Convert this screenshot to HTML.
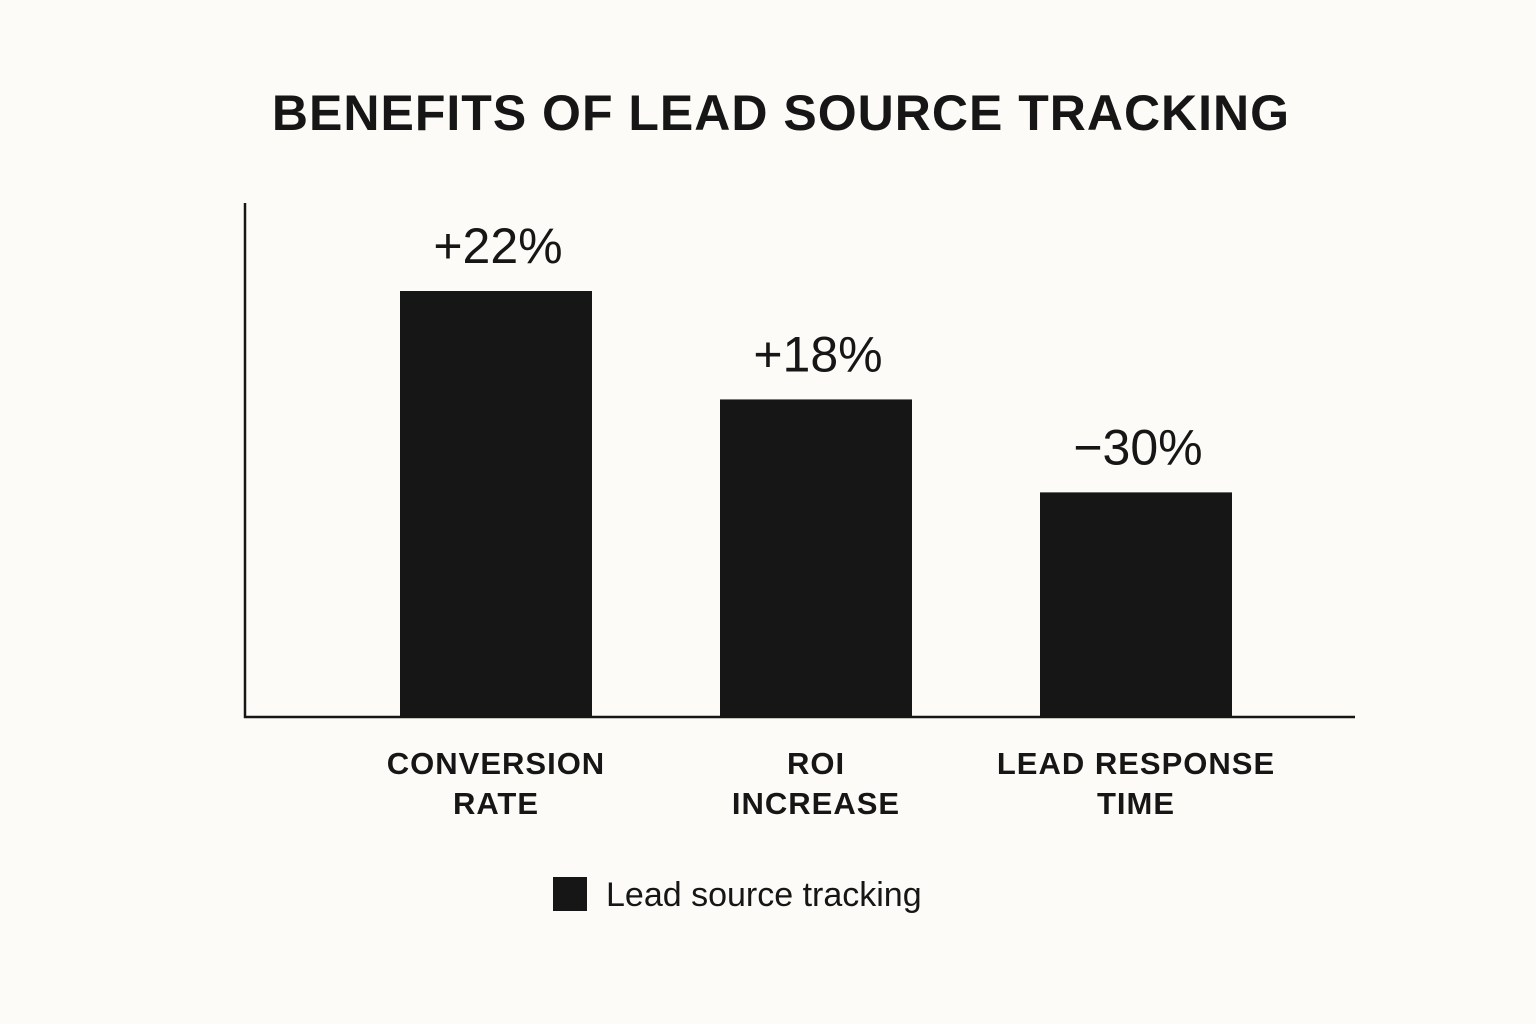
<!DOCTYPE html>
<html><head><meta charset="utf-8"><style>
html,body{margin:0;padding:0;background:#fcfbf7;}
svg{display:block;font-family:"Liberation Sans","DejaVu Sans",sans-serif;}
</style></head><body>
<svg id="chart" width="1536" height="1024" viewBox="0 0 1536 1024">
<rect width="1536" height="1024" fill="#fcfbf7"/>
<text x="781" y="130" text-anchor="middle" font-size="50" font-weight="bold" fill="#161616" letter-spacing="1">BENEFITS OF LEAD SOURCE TRACKING</text>
<line x1="245" y1="203" x2="245" y2="718" stroke="#161616" stroke-width="2.5"/>
<line x1="244" y1="717" x2="1355" y2="717" stroke="#161616" stroke-width="2.5"/>
<g id="bars"></g>
<rect x="553" y="877" width="34" height="34" fill="#161616"/>
<text x="606" y="906" font-size="34" fill="#161616">Lead source tracking</text>
</svg>
<script>
const categories = [["CONVERSION","RATE"],["ROI","INCREASE"],["LEAD RESPONSE","TIME"]];
const values = [22, 16.4, 11.6];
const valueLabels = ["+22%","+18%","\u221230%"];
const ns="http://www.w3.org/2000/svg";
const baseY=717, pxPerUnit=426/22;
function y(v){return baseY - v*pxPerUnit;}
function xCenter(i){return 496 + i*320;}
const barW=192;
const g=document.getElementById('bars');
values.forEach((v,i)=>{
  const r=document.createElementNS(ns,'rect');
  r.setAttribute('x',xCenter(i)-barW/2);
  r.setAttribute('y',y(v));
  r.setAttribute('width',barW);
  r.setAttribute('height',baseY-y(v));
  r.setAttribute('fill','#161616');
  
  
  g.appendChild(r);
  const t=document.createElementNS(ns,'text');
  t.setAttribute('x',xCenter(i)+2);
  t.setAttribute('y',y(v)-28);
  t.setAttribute('text-anchor','middle');
  t.setAttribute('font-size','50');
  t.setAttribute('fill','#161616');
  t.textContent=valueLabels[i];
  
  
  g.appendChild(t);
  categories[i].forEach((line,j)=>{
    const c=document.createElementNS(ns,'text');
    c.setAttribute('x',xCenter(i));
    c.setAttribute('y',774+j*40);
    c.setAttribute('text-anchor','middle');
    c.setAttribute('font-size','31');
    c.setAttribute('font-weight','bold');
    c.setAttribute('letter-spacing','1');
    c.setAttribute('fill','#161616');
    c.textContent=line;
    
    
    g.appendChild(c);
  });
});
</script>
</body></html>
